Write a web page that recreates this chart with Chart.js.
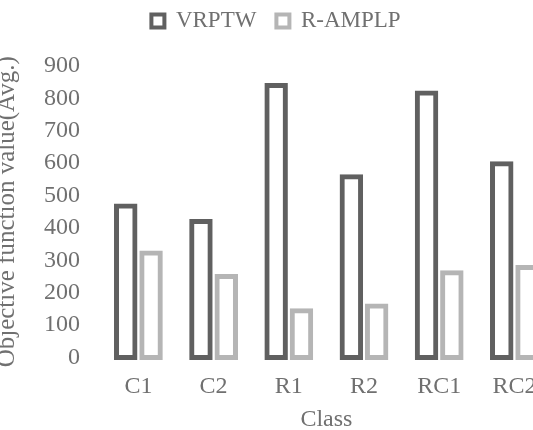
<!DOCTYPE html>
<html>
<head>
<meta charset="utf-8">
<script src="https://cdn.jsdelivr.net/npm/chart.js@4/dist/chart.umd.min.js"></script>
<style>
html,body{margin:0;padding:0;background:#ffffff;overflow:hidden;width:533px;height:430px}
#wrap{width:558px;height:430px}
canvas{display:block}
</style>
</head>
<body>
<div id="wrap"><canvas id="c" width="558" height="430" style="width:558px;height:430px"></canvas></div>
<script>
const categories = ['C1', 'C2', 'R1', 'R2', 'RC1', 'RC2'];
const seriesNames = ['VRPTW', 'R-AMPLP'];
const vrptwValues = [468, 420, 840, 558, 817, 598];
const ramplpValues = [323, 250, 144, 159, 262, 278];
const yTickValues = [0, 100, 200, 300, 400, 500, 600, 700, 800, 900];

const TEXT = '#707070';
const DARK = '#606060';
const LIGHT = '#b5b5b5';
const FAMILY = "'Liberation Serif', 'Times New Roman', serif";

Chart.defaults.font.family = FAMILY;
Chart.defaults.color = TEXT;

const legendMargin = {
  id: 'legendMargin',
  beforeInit(chart) {
    const orig = chart.legend.fit;
    chart.legend.fit = function () {
      orig.call(this);
      this.height += 23.5;
    };
  }
};

function barSet(label, data, color) {
  return {
    label: label,
    data: data,
    backgroundColor: '#ffffff',
    borderColor: color,
    borderWidth: 5,
    borderSkipped: false,
    inflateAmount: 2.5,
    categoryPercentage: 0.673,
    barPercentage: 0.73,
    clip: false
  };
}

new Chart(document.getElementById('c'), {
  type: 'bar',
  data: {
    labels: categories,
    datasets: [
      barSet(seriesNames[0], vrptwValues, DARK),
      barSet(seriesNames[1], ramplpValues, LIGHT)
    ]
  },
  options: {
    responsive: false,
    animation: false,
    devicePixelRatio: 1,
    layout: { padding: { left: 0, right: 6, top: -10.5, bottom: 6.5 } },
    plugins: {
      legend: {
        position: 'top',
        labels: {
          boxWidth: 13,
          boxHeight: 13,
          padding: 20,
          color: TEXT,
          font: { size: 23, family: FAMILY },
          generateLabels(chart) {
            const items = Chart.defaults.plugins.legend.labels.generateLabels(chart);
            items.forEach(function (it) { it.lineWidth = 4; });
            return items;
          }
        }
      },
      tooltip: { enabled: false }
    },
    scales: {
      x: {
        grid: { display: false, drawTicks: false },
        border: { display: false },
        ticks: { color: TEXT, font: { size: 24, family: FAMILY, lineHeight: 1.2 }, padding: 15 },
        title: {
          display: true,
          text: 'Class',
          color: TEXT,
          font: { size: 24, family: FAMILY, lineHeight: 0.3 },
          padding: { top: 0, bottom: 0 }
        }
      },
      y: {
        min: 0,
        max: 900,
        afterBuildTicks(axis) {
          axis.ticks = yTickValues.map(v => ({ value: v }));
        },
        grid: { display: false, drawTicks: false },
        border: { display: false },
        ticks: { color: TEXT, font: { size: 24, family: FAMILY }, padding: 20.8 },
        title: {
          display: true,
          text: 'Objective function value(Avg.)',
          color: TEXT,
          font: { size: 25, family: FAMILY, lineHeight: 1.2 },
          padding: { top: -8, bottom: 1.2 }
        }
      }
    }
  },
  plugins: [legendMargin]
});
</script>
</body>
</html>
